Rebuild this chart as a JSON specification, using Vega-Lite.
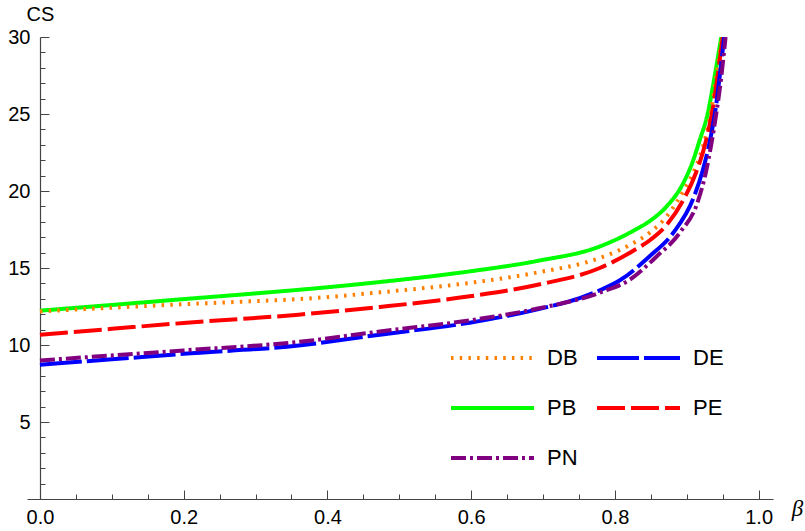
{
  "$schema": "https://vega.github.io/schema/vega-lite/v6.json",
  "width": 746,
  "height": 462,
  "autosize": "none",
  "padding": {"left": 27, "top": 37, "right": 32, "bottom": 32},
  "background": "white",
  "data": {"values": [
    {"s":"PB","b":0,"cs":12.23},{"s":"PB","b":0.1,"cs":12.6},{"s":"PB","b":0.2,"cs":12.98},{"s":"PB","b":0.3,"cs":13.35},{"s":"PB","b":0.4,"cs":13.75},{"s":"PB","b":0.473,"cs":14.09},{"s":"PB","b":0.598,"cs":14.78},{"s":"PB","b":0.691,"cs":15.45},{"s":"PB","b":0.779,"cs":16.4},{"s":"PB","b":0.825,"cs":17.4},{"s":"PB","b":0.85,"cs":18.1},{"s":"PB","b":0.872,"cs":19.0},{"s":"PB","b":0.895,"cs":20.5},{"s":"PB","b":0.909,"cs":22.0},{"s":"PB","b":0.918,"cs":23.3},{"s":"PB","b":0.929,"cs":25.0},{"s":"PB","b":0.939,"cs":27.5},{"s":"PB","b":0.948,"cs":30},
    {"s":"DB","b":0,"cs":12.18},{"s":"DB","b":0.1,"cs":12.42},{"s":"DB","b":0.2,"cs":12.65},{"s":"DB","b":0.3,"cs":12.85},{"s":"DB","b":0.36,"cs":12.98},{"s":"DB","b":0.473,"cs":13.42},{"s":"DB","b":0.598,"cs":14.03},{"s":"DB","b":0.691,"cs":14.7},{"s":"DB","b":0.779,"cs":15.65},{"s":"DB","b":0.825,"cs":16.6},{"s":"DB","b":0.85,"cs":17.35},{"s":"DB","b":0.872,"cs":18.35},{"s":"DB","b":0.899,"cs":20.3},{"s":"DB","b":0.913,"cs":21.6},{"s":"DB","b":0.925,"cs":23.3},{"s":"DB","b":0.935,"cs":25.5},{"s":"DB","b":0.942,"cs":27.7},{"s":"DB","b":0.949,"cs":30},
    {"s":"PE","b":0,"cs":10.67},{"s":"PE","b":0.1,"cs":11.05},{"s":"PE","b":0.2,"cs":11.43},{"s":"PE","b":0.36,"cs":11.97},{"s":"PE","b":0.473,"cs":12.47},{"s":"PE","b":0.598,"cs":13.16},{"s":"PE","b":0.691,"cs":13.9},{"s":"PE","b":0.779,"cs":15.0},{"s":"PE","b":0.825,"cs":16.1},{"s":"PE","b":0.85,"cs":16.85},{"s":"PE","b":0.872,"cs":17.8},{"s":"PE","b":0.895,"cs":19.4},{"s":"PE","b":0.913,"cs":21.2},{"s":"PE","b":0.927,"cs":23.3},{"s":"PE","b":0.936,"cs":25.3},{"s":"PE","b":0.943,"cs":27.5},{"s":"PE","b":0.95,"cs":30},
    {"s":"DE","b":0,"cs":8.72},{"s":"DE","b":0.1,"cs":9.07},{"s":"DE","b":0.2,"cs":9.43},{"s":"DE","b":0.36,"cs":9.97},{"s":"DE","b":0.473,"cs":10.67},{"s":"DE","b":0.598,"cs":11.45},{"s":"DE","b":0.691,"cs":12.3},{"s":"DE","b":0.751,"cs":13.05},{"s":"DE","b":0.779,"cs":13.55},{"s":"DE","b":0.807,"cs":14.2},{"s":"DE","b":0.848,"cs":15.75},{"s":"DE","b":0.881,"cs":17.27},{"s":"DE","b":0.909,"cs":19.5},{"s":"DE","b":0.922,"cs":21.3},{"s":"DE","b":0.932,"cs":23.2},{"s":"DE","b":0.94,"cs":25.3},{"s":"DE","b":0.946,"cs":27.5},{"s":"DE","b":0.952,"cs":30},
    {"s":"PN","b":0,"cs":9.0},{"s":"PN","b":0.1,"cs":9.32},{"s":"PN","b":0.2,"cs":9.65},{"s":"PN","b":0.36,"cs":10.2},{"s":"PN","b":0.473,"cs":10.88},{"s":"PN","b":0.598,"cs":11.6},{"s":"PN","b":0.691,"cs":12.35},{"s":"PN","b":0.779,"cs":13.4},{"s":"PN","b":0.821,"cs":14.25},{"s":"PN","b":0.858,"cs":15.75},{"s":"PN","b":0.89,"cs":17.27},{"s":"PN","b":0.916,"cs":19.4},{"s":"PN","b":0.927,"cs":21.3},{"s":"PN","b":0.934,"cs":23.0},{"s":"PN","b":0.941,"cs":25.0},{"s":"PN","b":0.948,"cs":27.4},{"s":"PN","b":0.954,"cs":30}
  ]},
  "mark": {"type": "line", "strokeWidth": 4, "interpolate": "monotone", "clip": true},
  "encoding": {
    "x": {
      "field": "b", "type": "quantitative",
      "scale": {"domain": [-0.018, 1.02], "nice": false, "zero": false},
      "axis": {
        "title": "β", "titleFont": "Liberation Serif", "titleFontStyle": "italic", "titleFontWeight": "normal",
        "titleFontSize": 23, "titleAngle": 0, "titleX": 770, "titleY": 16, "titleAlign": "center", "titleBaseline": "alphabetic", "titleColor": "#000",
        "values": [0,0.05,0.1,0.15,0.2,0.25,0.3,0.35,0.4,0.45,0.5,0.55,0.6,0.65,0.7,0.75,0.8,0.85,0.9,0.95,1.0],
        "labelExpr": "abs(datum.value*5 - round(datum.value*5)) < 0.001 ? format(datum.value, '.1f') : ''",
        "labelOverlap": false, "labelFlush": false,
        "tickSize": {"condition": {"test": "abs(datum.value*5 - round(datum.value*5)) < 0.001", "value": -9}, "value": -5},
        "labelPadding": 17,
        "grid": false, "domainColor": "#444", "tickColor": "#444", "domainWidth": 1.2, "tickWidth": 1,
        "labelFont": "Liberation Sans", "labelFontSize": 20, "labelColor": "#000"
      }
    },
    "y": {
      "field": "cs", "type": "quantitative",
      "scale": {"domain": [0, 30], "nice": false},
      "axis": {
        "title": "CS", "titleAngle": 0, "titleX": 0, "titleY": -17, "titleAlign": "center", "titleBaseline": "alphabetic",
        "titleFont": "Liberation Sans", "titleFontWeight": "normal", "titleFontSize": 20, "titleColor": "#000",
        "offset": -13,
        "values": [1,2,3,4,5,6,7,8,9,10,11,12,13,14,15,16,17,18,19,20,21,22,23,24,25,26,27,28,29,30],
        "labelExpr": "datum.value % 5 == 0 ? format(datum.value, 'd') : ''",
        "labelOverlap": false, "labelFlush": false,
        "tickSize": {"condition": {"test": "datum.value % 5 == 0", "value": -9}, "value": -5},
        "labelPadding": 19,
        "grid": false, "domainColor": "#444", "tickColor": "#444", "domainWidth": 1.2, "tickWidth": 1,
        "labelFont": "Liberation Sans", "labelFontSize": 20, "labelColor": "#000"
      }
    },
    "color": {
      "field": "s", "type": "nominal",
      "scale": {"domain": ["DB","PB","PN","DE","PE"], "range": ["#FF8000","#00FF00","#800080","#0000FF","#FF0000"]},
      "legend": {
        "orient": "none", "legendX": 422, "legendY": 306, "columns": 2, "title": null,
        "symbolType": "stroke", "symbolSize": 6889, "symbolStrokeWidth": 4, "clipHeight": 30,
        "labelFont": "Liberation Sans", "labelFontSize": 22, "labelColor": "#000", "labelOffset": 11,
        "columnPadding": 17, "rowPadding": 20
      }
    },
    "strokeDash": {
      "field": "s", "type": "nominal",
      "scale": {"domain": ["DB","PB","PN","DE","PE"], "range": [[2.5,6.2],[1,0],[15,4,3,4],[42,5],[28,6]]}
    }
  },
  "config": {"view": {"stroke": null}}
}
